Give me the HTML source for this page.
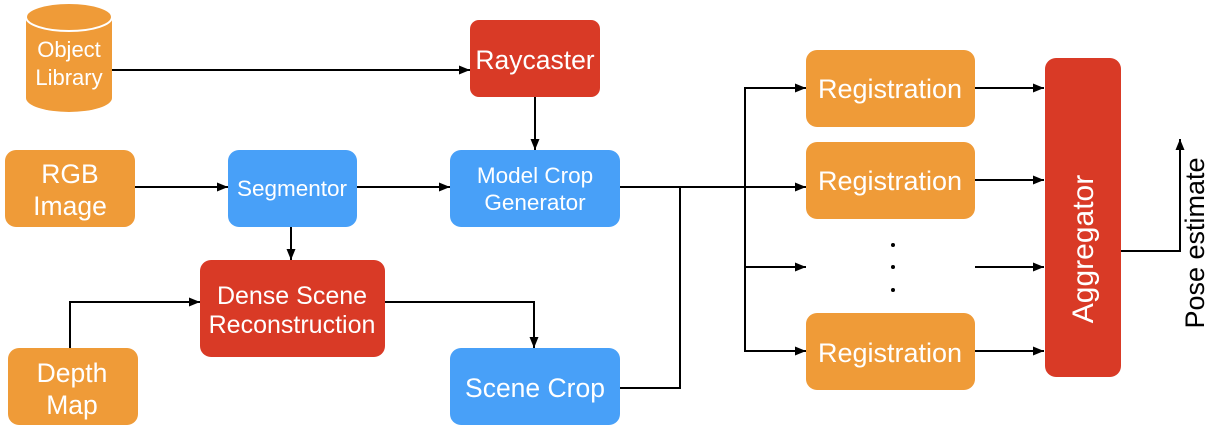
<!DOCTYPE html>
<html><head><style>
body{margin:0;background:#fff;}
svg text{font-family:"Liberation Sans",sans-serif;fill:#fff;text-anchor:middle;}
</style></head><body>
<svg width="1210" height="431" viewBox="0 0 1210 431" xmlns="http://www.w3.org/2000/svg">
<defs><marker id="a" markerWidth="12" markerHeight="12" refX="11" refY="6" orient="auto" markerUnits="userSpaceOnUse"><path d="M0,1.5 L11,6 L0,10.5 z" fill="#000"/></marker></defs>
<path d="M26,17 L26,98 A43,14 0 0 0 112,98 L112,17 Z" fill="#EF9B38"/>
<ellipse cx="69" cy="17" rx="43" ry="14" fill="#EF9B38" stroke="#fff" stroke-width="2"/>
<text x="69" y="57" font-size="22">Object</text>
<text x="69" y="85" font-size="22">Library</text>
<rect x="470" y="20" width="130" height="77" rx="9" fill="#D93A26"/>
<text x="535" y="69" font-size="26.5">Raycaster</text>
<rect x="5" y="150" width="130" height="77" rx="11" fill="#EF9B38"/>
<text x="70" y="183" font-size="26.5">RGB</text>
<text x="70" y="215" font-size="26.5">Image</text>
<rect x="228" y="150" width="129" height="77" rx="11" fill="#48A0F8"/>
<text x="292" y="196" font-size="22.5">Segmentor</text>
<rect x="450" y="150" width="170" height="77" rx="11" fill="#48A0F8"/>
<text x="535" y="183" font-size="22.5">Model Crop</text>
<text x="535" y="210" font-size="22.5">Generator</text>
<rect x="200" y="260" width="185" height="97" rx="11" fill="#D93A26"/>
<text x="292" y="304" font-size="25">Dense Scene</text>
<text x="292" y="333" font-size="25">Reconstruction</text>
<rect x="8" y="348" width="130" height="77" rx="11" fill="#EF9B38"/>
<text x="72" y="382" font-size="26.5">Depth</text>
<text x="72" y="414" font-size="26.5">Map</text>
<rect x="450" y="348" width="170" height="77" rx="11" fill="#48A0F8"/>
<text x="535" y="397" font-size="26.5">Scene Crop</text>
<rect x="806" y="50" width="169" height="77" rx="11" fill="#EF9B38"/>
<text x="890" y="98" font-size="27">Registration</text>
<rect x="806" y="142" width="169" height="77" rx="11" fill="#EF9B38"/>
<text x="890" y="190" font-size="27">Registration</text>
<rect x="806" y="313" width="169" height="77" rx="11" fill="#EF9B38"/>
<text x="890" y="362" font-size="27">Registration</text>
<rect x="1045" y="58" width="76" height="319" rx="11" fill="#D93A26"/>
<text x="0" y="0" font-size="30" transform="translate(1093,249) rotate(-90)">Aggregator</text>
<circle cx="893" cy="245" r="2" fill="#000"/><circle cx="893" cy="267" r="2" fill="#000"/><circle cx="893" cy="290" r="2" fill="#000"/>
<g stroke="#000" stroke-width="2" fill="none">
<path d="M112,70 H470" marker-end="url(#a)"/>
<path d="M535,97 V150" marker-end="url(#a)"/>
<path d="M135,187 H228" marker-end="url(#a)"/>
<path d="M357,187 H450" marker-end="url(#a)"/>
<path d="M291,227 V260" marker-end="url(#a)"/>
<path d="M70,348 V302 H200" marker-end="url(#a)"/>
<path d="M385,302 H534 V348" marker-end="url(#a)"/>
<path d="M620,388 H680 V187"/>
<path d="M620,187 H806" marker-end="url(#a)"/>
<path d="M806,88 H745 V351 H806" marker-end="url(#a)"/>
<path d="M745,88 H806" marker-end="url(#a)"/>
<path d="M745,267 H806" marker-end="url(#a)"/>
<path d="M975,88 H1044" marker-end="url(#a)"/>
<path d="M975,180 H1044" marker-end="url(#a)"/>
<path d="M975,267 H1044" marker-end="url(#a)"/>
<path d="M975,351 H1044" marker-end="url(#a)"/>
<path d="M1121,251 H1180 V139" marker-end="url(#a)"/>
</g>
<text x="0" y="0" font-size="27" style="fill:#000" transform="translate(1204,243) rotate(-90)">Pose estimate</text>
</svg>
</body></html>
